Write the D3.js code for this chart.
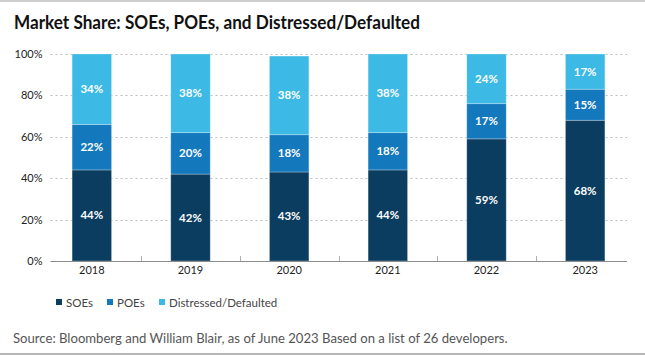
<!DOCTYPE html>
<html>
<head>
<meta charset="utf-8">
<script src="https://cdn.jsdelivr.net/npm/d3@7"></script>
<style>
  html, body { margin: 0; padding: 0; background: #fff; }
  svg { display: block; font-family: Lato, "Noto Sans", sans-serif; }
</style>
</head>
<body>
<svg id="chart" width="645" height="355"></svg>
<script>
const title = "Market Share: SOEs, POEs, and Distressed/Defaulted";
const source = "Source: Bloomberg and William Blair, as of June 2023 Based on a list of 26 developers.";
const years = ["2018", "2019", "2020", "2021", "2022", "2023"];
const seriesNames = ["SOEs", "POEs", "Distressed/Defaulted"];
const soes = [44, 42, 43, 44, 59, 68];
const poes = [22, 20, 18, 18, 17, 15];
const distressed = [34, 38, 38, 38, 24, 17];
const yTicks = [0, 20, 40, 60, 80, 100];
const colors = ["#0b3d60", "#1478bd", "#3cb9e5"];

const svg = d3.select("#chart");
const W = 645, H = 355;

// frame lines
svg.append("rect").attr("x", 0).attr("y", 0).attr("width", W).attr("height", 2).attr("fill", "#cfcfcf");
svg.append("rect").attr("x", 0).attr("y", H - 2).attr("width", W).attr("height", 2).attr("fill", "#b5b5b5");

function fitText(sel, target) {
  const len = sel.node().getComputedTextLength();
  const fs = parseFloat(sel.attr("font-size"));
  if (len > 0) sel.attr("font-size", (fs * target / len).toFixed(2));
}

svg.append("text").attr("x", 14).attr("y", 28.5)
  .attr("font-size", 19.5).attr("font-weight", 700).attr("fill", "#111")
  .attr("textLength", 406).attr("lengthAdjust", "spacingAndGlyphs")
  .text(title);

const x = d3.scaleBand().domain(years).range([42.5, 634.5]).paddingInner(0).paddingOuter(0);
const y = d3.scaleLinear().domain([0, 100]).range([261, 54]);
const barW = x.bandwidth() * 0.4;

const plotL = 50.5, plotR = 627;

// gridlines
svg.append("g").selectAll("line").data(yTicks.filter(d => d > 0)).join("line")
  .attr("x1", plotL).attr("x2", plotR)
  .attr("y1", d => Math.round(y(d)) + 0.5).attr("y2", d => Math.round(y(d)) + 0.5)
  .attr("stroke", "#bdbdbd").attr("stroke-width", 1).attr("stroke-dasharray", "2,3");

// y labels
svg.append("g").selectAll("text").data(yTicks).join("text")
  .attr("x", 42.5).attr("y", d => y(d) + 4)
  .attr("text-anchor", "end").attr("font-size", 11).attr("fill", "#222")
  .text(d => d + "%");

// stacked data
const table = years.map((yr, i) => ({ year: yr, SOEs: soes[i], POEs: poes[i], "Distressed/Defaulted": distressed[i] }));
const stack = d3.stack().keys(seriesNames)(table);

const g = svg.append("g");
stack.forEach((layer, li) => {
  g.append("g").selectAll("rect").data(layer).join("rect")
    .attr("x", d => x(d.data.year) + (x.bandwidth() - barW) / 2)
    .attr("y", d => y(d[1]))
    .attr("width", barW)
    .attr("height", d => y(d[0]) - y(d[1]))
    .attr("fill", colors[li])
    .attr("stroke", "#ffffff").attr("stroke-opacity", 0.35).attr("stroke-width", 0.8);
  g.append("g").selectAll("text").data(layer).join("text")
    .attr("x", d => x(d.data.year) + x.bandwidth() / 2)
    .attr("y", d => (y(d[0]) + y(d[1])) / 2 + 4)
    .attr("text-anchor", "middle").attr("font-size", 11.5).attr("font-weight", 700)
    .attr("fill", "#fff")
    .text(d => (d[1] - d[0]) + "%");
});

// x axis line
svg.append("line").attr("x1", plotL).attr("x2", plotR)
  .attr("y1", y(0) + 0.5).attr("y2", y(0) + 0.5)
  .attr("stroke", "#8c8c8c").attr("stroke-width", 1);
// category separator ticks
svg.append("g").selectAll("line").data(years.slice(1)).join("line")
  .attr("x1", d => Math.round(x(d)) + 0.5).attr("x2", d => Math.round(x(d)) + 0.5)
  .attr("y1", y(0) - 5).attr("y2", y(0))
  .attr("stroke", "#b0b0b0").attr("stroke-width", 1);

// x labels
svg.append("g").selectAll("text").data(years).join("text")
  .attr("x", d => x(d) + x.bandwidth() / 2).attr("y", 274)
  .attr("text-anchor", "middle").attr("font-size", 11).attr("fill", "#222")
  .text(d => d);

// legend
const legX = [56, 107, 159];
const leg = svg.append("g");
seriesNames.forEach((name, i) => {
  leg.append("rect").attr("x", legX[i]).attr("y", 299).attr("width", 6).attr("height", 6).attr("fill", colors[i]);
  leg.append("text").attr("x", legX[i] + 10).attr("y", 306.5)
    .attr("font-size", 11.5).attr("fill", "#444").text(name);
});

const s = svg.append("text").attr("x", 13).attr("y", 343)
  .attr("font-size", 12.5).attr("fill", "#555").text(source);
fitText(s, 495);
</script>
</body>
</html>
